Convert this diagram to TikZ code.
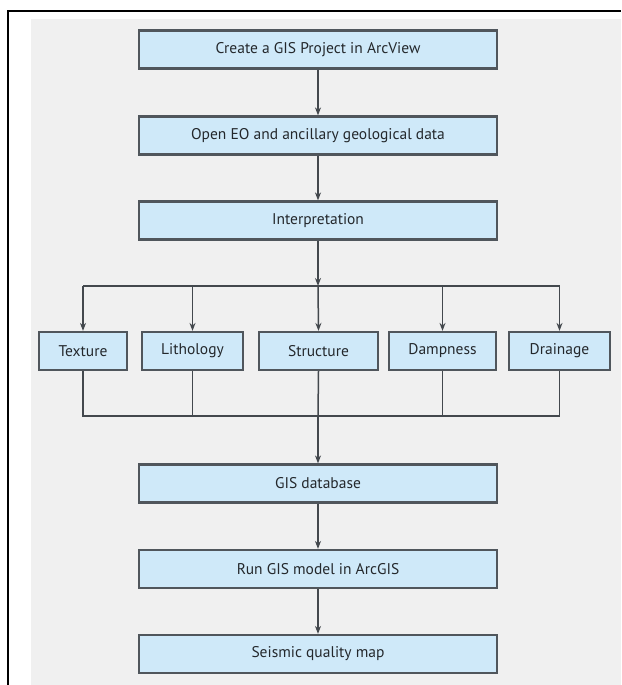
\documentclass[tikz,border=0pt]{standalone}
\usepackage{fontspec}
\setmainfont{PT Sans}
\usetikzlibrary{arrows.meta}
\definecolor{bgc}{HTML}{F0F0F0}
\definecolor{boxfill}{HTML}{CFE9F9}
\definecolor{boxline}{HTML}{50565C}
\definecolor{linec}{HTML}{43484D}
\definecolor{txt}{HTML}{24282C}
\tikzset{
  mainbox/.style={draw=boxline, line width=2.2pt, fill=boxfill, minimum width=358pt, minimum height=38pt, inner sep=0pt, font=\fontsize{15.5}{17}\selectfont, text=txt},
  smallbox/.style={draw=boxline, line width=2.2pt, fill=boxfill, minimum height=38pt, inner sep=0pt, font=\fontsize{15.5}{17}\selectfont, text=txt},
  conn/.style={draw=linec, line width=1.5pt},
  arr/.style={conn, -{Stealth[length=8pt,width=6pt]}}
}
\begin{document}
\begin{tikzpicture}[x=1pt,y=-1pt]
\useasboundingbox (0,0) rectangle (621,685);
\fill[white] (0,0) rectangle (621,685);
\fill[bgc] (31,19) rectangle (621,685);
\draw[black, line width=2.5pt] (8,685) -- (8,11) -- (621,11);

\node[mainbox] (b1) at (318,49.5) {Create a GIS Project in ArcView};
\node[mainbox] (b2) at (318,135.5) {Open EO and ancillary geological data};
\node[mainbox] (b3) at (318,220.5) {Interpretation};

\node[smallbox, minimum width=88pt]  (tex) at (83,351) {Texture};
\node[smallbox, minimum width=101pt] (lit) at (192.5,351) {Lithology};
\node[smallbox, minimum width=119pt] (str) at (318.5,351) {Structure};
\node[smallbox, minimum width=107pt] (dam) at (442.5,351) {Dampness};
\node[smallbox, minimum width=101pt] (drn) at (559.5,351) {Drainage};

\node[mainbox] (gis) at (318,483.5) {GIS database};
\node[mainbox] (run) at (318,569) {Run GIS model in ArcGIS};
\node[mainbox] (map) at (318,654) {Seismic quality map};

\coordinate (d) at (318,286);
\coordinate (c) at (318,416);

\draw[arr] (b1) -- (b2);
\draw[arr] (b2) -- (b3);
\draw[arr] (b3) -- (d);
\draw[conn] (tex.north |- d) -- (drn.north |- d);
\draw[arr] (tex.north |- d) -- (tex.north);
\draw[arr] (lit.north |- d) -- (lit.north);
\draw[arr] (d) -- (str.north);
\draw[arr] (dam.north |- d) -- (dam.north);
\draw[arr] (drn.north |- d) -- (drn.north);

\draw[conn] (tex.south) |- (drn.south |- c) -- (drn.south);
\draw[conn] (lit.south) -- (lit.south |- c);
\draw[conn] (str.south) -- (c);
\draw[conn] (dam.south) -- (dam.south |- c);
\draw[arr] (c) -- (gis);
\draw[arr] (gis) -- (run);
\draw[arr] (run) -- (map);
\end{tikzpicture}
\end{document}
